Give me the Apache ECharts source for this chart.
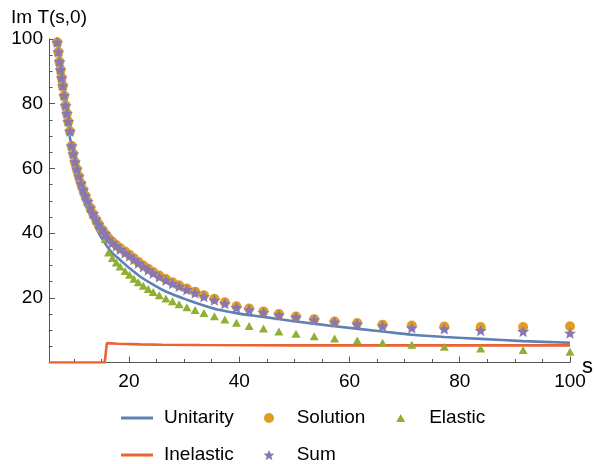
<!DOCTYPE html>
<html>
<head>
<meta charset="utf-8">
<script src="https://cdn.jsdelivr.net/npm/echarts@6/dist/echarts.min.js"></script>
<style>
html,body{margin:0;padding:0;background:#fff;}
#c{width:595px;height:464px;}
</style>
</head>
<body>
<div id="c"></div>
<script>
// ---- data ----
const sPts = [6.7, 6.85, 7.0, 7.2, 7.4, 7.6, 7.8, 8.0, 8.25, 8.5, 8.75, 9.0, 9.3, 9.6, 9.9, 10.2, 10.55, 10.9, 11.3, 11.7, 12.1, 12.5, 13.0, 13.5, 14.0, 14.5, 15.1, 15.7, 16.3, 17.0, 17.7, 18.4, 19.3, 20.1, 20.9, 21.7, 22.6, 23.5, 24.4, 25.5, 26.7, 27.9, 29.1, 30.5, 32.0, 33.6, 35.5, 37.4, 39.5, 41.8, 44.4, 47.2, 50.3, 53.6, 57.3, 61.4, 66.0, 71.3, 77.2, 83.8, 91.5, 100];
const solution = [104, 101.5, 99, 96, 93, 90.5, 88, 85.5, 82.5, 79.5, 77, 74.5, 71.5, 67, 64.5, 62, 59.8, 57.6, 55.4, 53.4, 51.5, 49.8, 47.8, 46, 44.3, 42.8, 41.2, 39.8, 38.5, 37.3, 36.3, 35.4, 34.3, 33.3, 32.2, 31.1, 30.0, 29.0, 28.0, 26.9, 25.8, 24.8, 23.9, 22.9, 21.9, 20.8, 19.7, 18.6, 17.4, 16.7, 15.8, 15.0, 14.2, 13.4, 12.7, 12.2, 11.7, 11.4, 11.1, 11.0, 11.0, 11.2];
const sumVals = [104, 101.5, 99, 96, 93, 90.5, 88, 85.5, 82.5, 79.5, 77, 74.5, 71.5, 67, 64.5, 62, 59.8, 57.6, 55.4, 53.4, 51.5, 49.8, 47.8, 46, 44.3, 42.8, 41.2, 39.8, 38.2, 37.0, 36.0, 35.0, 33.9, 32.9, 31.8, 30.7, 29.6, 28.6, 27.6, 26.5, 25.4, 24.4, 23.5, 22.5, 21.5, 20.4, 19.3, 18.2, 17.0, 16.3, 15.5, 14.7, 14.0, 13.2, 12.5, 11.9, 11.3, 10.7, 10.4, 9.9, 9.6, 9.1];
const elastic = [104, 101.5, 99, 96, 93, 90.5, 88, 85.5, 82.5, 79.5, 77, 74.5, 71.5, 67, 64.5, 62, 59.8, 57.6, 55.4, 53.4, 51.5, 49.8, 47.8, 46, 44.3, 42.8, 41.2, 38.2, 34.0, 32.3, 30.9, 29.7, 28.3, 27.1, 25.9, 24.8, 23.7, 22.7, 21.8, 20.8, 19.8, 18.9, 18.0, 17.1, 16.2, 15.3, 14.3, 13.3, 12.3, 11.3, 10.5, 9.6, 8.9, 8.1, 7.4, 6.8, 6.1, 5.5, 4.9, 4.3, 3.9, 3.3];
const sUnit = [6.9, 7.2, 7.5, 8, 8.5, 9, 9.5, 10, 11, 12, 13, 14, 15, 16, 17, 18.4, 20, 22, 24.4, 27, 30.5, 34, 36.5, 40, 44.4, 50.3, 57.3, 66, 71.3, 77.2, 83.8, 91.5, 100];
const unitarity = [101, 96, 91, 84, 78, 72.5, 67.5, 63, 56, 50.5, 46, 41.8, 38.6, 36, 33.8, 31.7, 29.3, 26.6, 24.1, 21.7, 19.4, 17.4, 16.2, 15.1, 14.1, 12.7, 11.2, 9.6, 8.6, 7.9, 7.3, 6.6, 6.1];
const sInel = [5.5, 15.6, 16, 18, 22, 26, 33, 50, 100];
const inelastic = [0, 0, 6.0, 5.8, 5.6, 5.5, 5.4, 5.3, 5.3];
const xMajorTicks = [20, 40, 60, 80, 100];
const xMinorTicks = [10, 15, 25, 30, 35, 45, 50, 55, 65, 70, 75, 85, 90, 95];
const yTickInterval = 20;

// ---- styles ----
const C = {unit:'#5E81B5', sol:'#E19C24', ela:'#8FB032', inel:'#EB6235', sum:'#8778B3'};
const FONT = 'Liberation Sans, Arial, sans-serif';
const FS = 19;
const AX = '#555';
const STAR = 'path://M50 0 L62.93 32.2 L97.55 34.55 L70.92 56.8 L79.39 90.45 L50 72 L20.61 90.45 L29.08 56.8 L2.45 34.55 L37.07 32.2 Z';

const zip = (xs, ys) => xs.map((x, i) => [x, ys[i]]);

const chart = echarts.init(document.getElementById('c'), null, {renderer:'canvas'});
const txt = {color:'#000', fontSize:FS, fontFamily:FONT};
function leg(name, left, top, w, h, icon, padLeft){
  const o = {data:[name], left:left, top:top, itemWidth:w, itemHeight:h, orient:'horizontal',
    padding:0, selectedMode:false, symbolKeepAspect:true,
    textStyle:Object.assign({}, txt, {padding:[0,0,0,padLeft||0]})};
  if (icon) o.icon = icon;
  return o;
}
chart.setOption({
  animation:false,
  backgroundColor:'#fff',
  textStyle:{fontFamily:FONT},
  grid:{left:49, right:25, top:39, bottom:101.5, containLabel:false, outerBoundsMode:'none'},
  graphic:[{type:'text', x:582, y:366.5, silent:true,
    style:{text:'s', fill:'#000', font:'22px ' + FONT, align:'left', verticalAlign:'middle'}}],
  xAxis:[{
    type:'value', min:5.5, max:100, position:'bottom',
    axisLine:{show:true, onZero:false, lineStyle:{color:AX, width:1}},
    axisTick:{show:true, inside:true, length:6, customValues:xMajorTicks, lineStyle:{color:AX}},
    axisLabel:{show:true, customValues:xMajorTicks, margin:10, color:'#000', fontSize:FS, fontFamily:FONT},
    splitLine:{show:false}
  },{
    type:'value', min:5.5, max:100, position:'bottom',
    axisLine:{show:false},
    axisTick:{show:true, inside:true, length:3.5, customValues:xMinorTicks, lineStyle:{color:AX}},
    axisLabel:{show:false},
    splitLine:{show:false}
  }],
  yAxis:{
    type:'value', min:0, max:100, interval:yTickInterval,
    name:'Im T(s,0)', nameLocation:'end', nameGap:12, nameTextStyle:txt,
    axisLine:{show:true, onZero:false, lineStyle:{color:AX, width:1}},
    axisTick:{show:true, inside:true, length:6, lineStyle:{color:AX}},
    minorTick:{show:true, splitNumber:4, length:3.5, lineStyle:{color:AX}},
    axisLabel:{margin:6, color:'#000', fontSize:FS, fontFamily:FONT, formatter:v => v === 0 ? '' : String(v)},
    splitLine:{show:false}
  },
  legend:[
    leg('Unitarity', 121, 408.5, 32, 3, 'rect', 6),
    leg('Solution', 264, 408.5, 10, 10, 'circle', 17.7),
    leg('Elastic', 396.2, 408.5, 9, 8, 'triangle', 19),
    leg('Inelastic', 121, 445.5, 32, 3, 'rect', 6),
    leg('Sum', 263.5, 445.5, 11, 11, STAR, 17.2)
  ],
  series:[
    {name:'Unitarity', type:'line', data:zip(sUnit, unitarity), smooth:0.3, symbol:'none',
      lineStyle:{color:C.unit, width:2.6}, itemStyle:{color:C.unit}, clip:true, z:2},
    {name:'Inelastic', type:'line', data:zip(sInel, inelastic), symbol:'none',
      lineStyle:{color:C.inel, width:2.6}, itemStyle:{color:C.inel}, clip:true, z:2},
    {name:'Solution', type:'scatter', data:zip(sPts, solution), symbol:'circle', symbolSize:10,
      itemStyle:{color:C.sol, opacity:1}, clip:true, z:3},
    {name:'Elastic', type:'scatter', data:zip(sPts, elastic), symbol:'triangle', symbolSize:[9,8],
      itemStyle:{color:C.ela, opacity:1}, clip:true, z:3},
    {name:'Sum', type:'scatter', data:zip(sPts, sumVals), symbol:STAR, symbolSize:12, symbolKeepAspect:true,
      itemStyle:{color:C.sum, opacity:1}, clip:true, z:3}
  ]
});
</script>
</body>
</html>
